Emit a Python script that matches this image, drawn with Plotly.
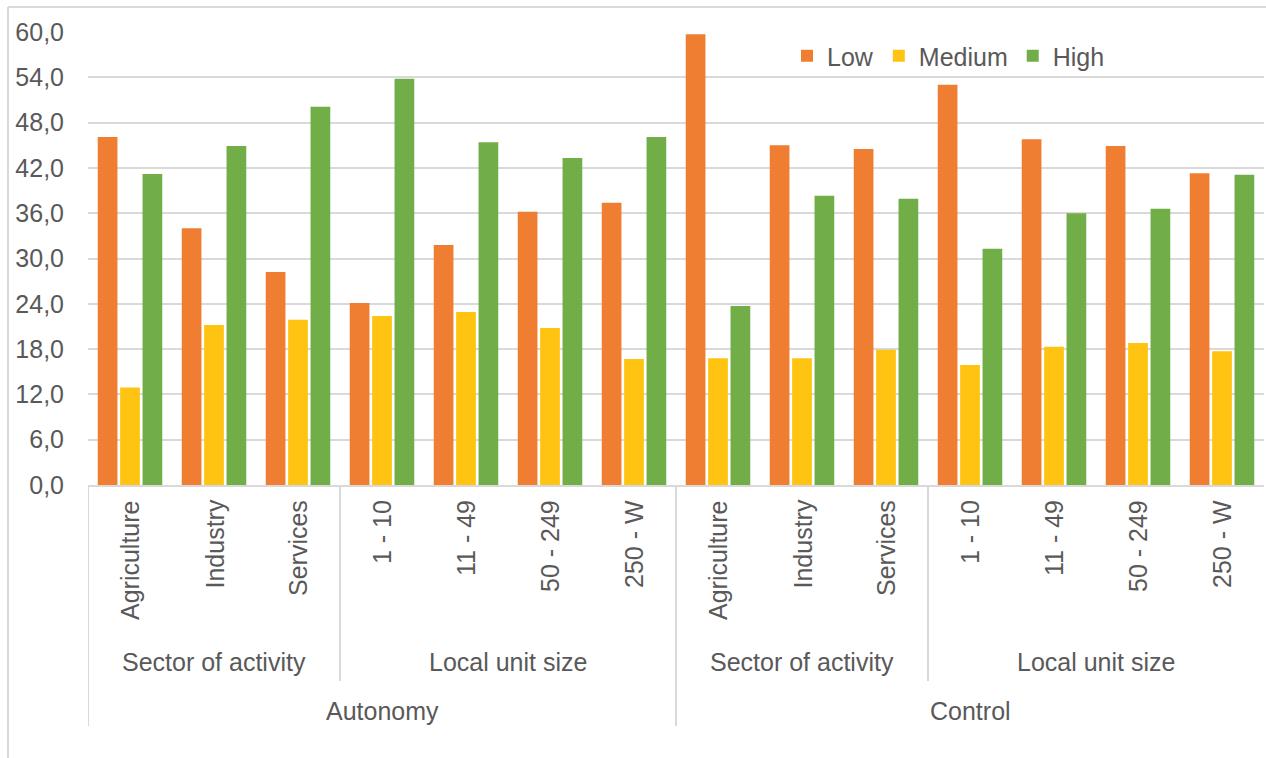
import plotly.graph_objects as go

# Category hierarchy (innermost to outermost)
categories = ["Agriculture", "Industry", "Services", "1 - 10", "11 - 49", "50 - 249", "250 - W",
              "Agriculture", "Industry", "Services", "1 - 10", "11 - 49", "50 - 249", "250 - W"]
subgroups = ["Sector of activity", "Local unit size", "Sector of activity", "Local unit size"]
subgroup_sizes = [3, 4, 3, 4]
groups = ["Autonomy", "Control"]
group_sizes = [7, 7]

# Series values (%)
low = [46.1, 34.0, 28.2, 24.1, 31.8, 36.2, 37.4, 59.7, 45.0, 44.5, 53.0, 45.8, 44.9, 41.3]
medium = [12.9, 21.2, 21.9, 22.4, 22.9, 20.8, 16.7, 16.8, 16.8, 17.9, 15.9, 18.3, 18.8, 17.7]
high = [41.2, 44.9, 50.1, 53.8, 45.4, 43.3, 46.1, 23.7, 38.3, 37.9, 31.3, 36.0, 36.6, 41.1]

y_ticks = [0, 6, 12, 18, 24, 30, 36, 42, 48, 54, 60]

FONT = "Liberation Sans, Arial, sans-serif"
TXT = "#595959"
GRID = "#D9D9D9"
FS = 25

W, H = 1266, 758
L, R, T, B = 88, 2, 32, 273
plot_h = H - T - B

def py(pix):
    """Convert a pixel row to paper y."""
    return (H - B - pix) / plot_h

def px(pix):
    return (pix - L) / (W - L - R)

x = list(range(len(categories)))

fig = go.Figure()
for name, vals, col in [("Low", low, "#F07E32"), ("Medium", medium, "#FFC311"), ("High", high, "#71AE48")]:
    fig.add_trace(go.Bar(x=x, y=vals, name=name, marker=dict(color=col, line=dict(width=0))))

shapes = []
annotations = []

# innermost category labels, rotated
for i, c in enumerate(categories):
    annotations.append(dict(x=i, y=0, xref="x", yref="paper", text=c, textangle=-90,
                            showarrow=False, xanchor="center", yanchor="top", yshift=-13,
                            font=dict(family=FONT, size=FS, color=TXT)))

# second level labels and separators
start = 0
for name, n in zip(subgroups, subgroup_sizes):
    annotations.append(dict(x=start + (n - 1) / 2, y=py(662), xref="x", yref="paper", text=name,
                            showarrow=False, xanchor="center", yanchor="middle",
                            font=dict(family=FONT, size=FS, color=TXT)))
    start += n
    if start < len(categories):
        shapes.append(dict(type="line", xref="x", yref="paper", x0=start - 0.5, x1=start - 0.5,
                           y0=0, y1=py(681), line=dict(color=GRID, width=2)))

# outer level labels and separators
start = 0
shapes.append(dict(type="line", xref="x", yref="paper", x0=-0.5, x1=-0.5,
                   y0=0, y1=py(726), line=dict(color=GRID, width=2)))
for name, n in zip(groups, group_sizes):
    annotations.append(dict(x=start + (n - 1) / 2, y=py(711), xref="x", yref="paper", text=name,
                            showarrow=False, xanchor="center", yanchor="middle",
                            font=dict(family=FONT, size=FS, color=TXT)))
    start += n
    if start < len(categories):
        shapes.append(dict(type="line", xref="x", yref="paper", x0=start - 0.5, x1=start - 0.5,
                           y0=0, y1=py(726), line=dict(color=GRID, width=2)))

# chart frame (top and left edges)
shapes.append(dict(type="line", xref="paper", yref="paper", x0=px(8), x1=px(1266),
                   y0=py(7), y1=py(7), line=dict(color=GRID, width=2)))
shapes.append(dict(type="line", xref="paper", yref="paper", x0=px(8), x1=px(8),
                   y0=py(7), y1=py(758), line=dict(color=GRID, width=2)))

fig.update_layout(
    width=W, height=H,
    margin=dict(l=L, r=R, t=T, b=B),
    paper_bgcolor="white", plot_bgcolor="white",
    separators=",.",
    barmode="group", bargap=0.2, bargroupgap=0.12,
    font=dict(family=FONT, size=FS, color=TXT),
    legend=dict(orientation="h", x=px(787), y=py(56), xanchor="left", yanchor="middle",
                font=dict(family=FONT, size=FS, color=TXT), bgcolor="rgba(0,0,0,0)",
                traceorder="normal"),
    shapes=shapes,
    annotations=annotations,
)
fig.update_xaxes(range=[-0.5, len(categories) - 0.5], showticklabels=False, showgrid=False,
                 showline=True, linecolor=GRID, linewidth=2, zeroline=False, fixedrange=True)
fig.update_yaxes(range=[0, 60], tickvals=y_ticks, tickformat=".1f", showgrid=True,
                 gridcolor=GRID, gridwidth=2, zeroline=False, showline=False,
                 ticks="", ticklabelstandoff=23,
                 tickfont=dict(family=FONT, size=FS, color=TXT), fixedrange=True)

fig.write_html("out.html")
